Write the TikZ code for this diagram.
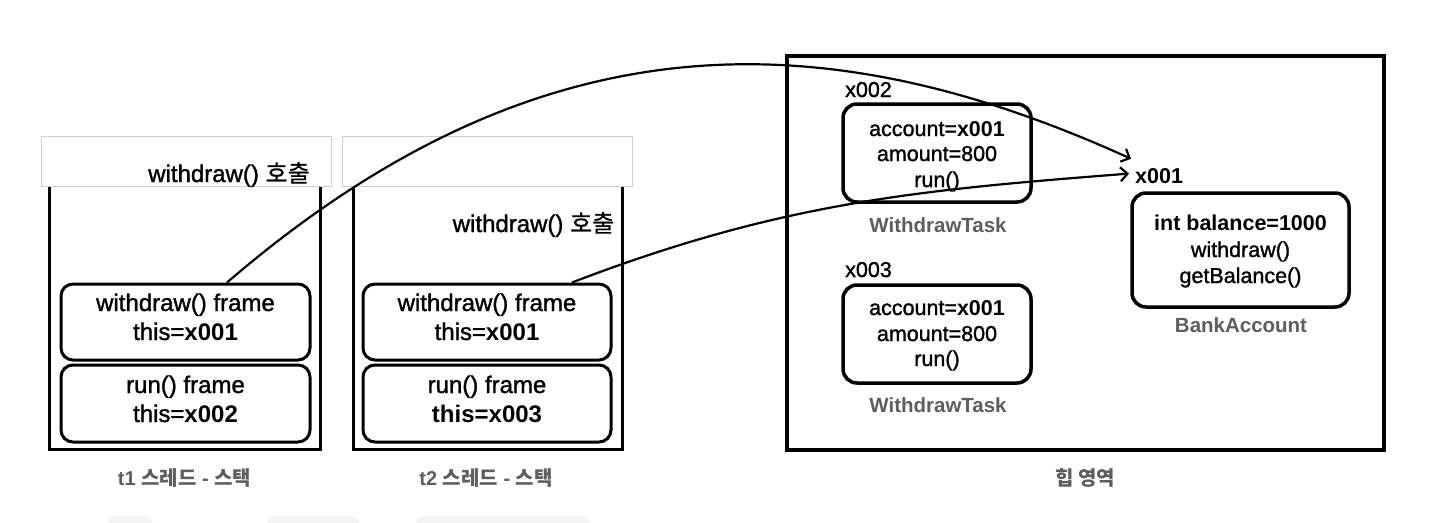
\documentclass[tikz,border=0pt]{standalone}
\usepackage{fontspec}
\setmainfont{Liberation Sans}[UprightFeatures={FakeBold=1.3}]
\newfontfamily\kr{Noto Sans CJK KR}[UprightFeatures={FakeBold=0.8}]
\usetikzlibrary{arrows.meta}
\definecolor{lbl}{HTML}{5E5E5E}
\definecolor{boxedge}{HTML}{CFCFCF}
\definecolor{faint}{HTML}{F3F4F6}
\begin{document}
\begin{tikzpicture}[x=1pt,y=-1pt,
  stackbox/.style={draw, line width=3pt},
  topbox/.style={draw=boxedge, line width=0.9pt, fill=white},
  framebox/.style={draw, line width=3pt, rounded corners=12pt, inner sep=0pt},
  objbox/.style={draw, line width=3.5pt, rounded corners=14pt, inner sep=0pt},
  heapbox/.style={draw, line width=4pt},
  ttxt/.style={anchor=base, inner sep=0pt, font=\fontsize{24}{29}\selectfont},
  htxt/.style={anchor=base, inner sep=0pt, font=\fontsize{21.5}{25}\selectfont},
  addr/.style={anchor=base west, inner sep=0pt, font=\fontsize{21.5}{25}\selectfont},
  classcap/.style={anchor=base, inner sep=0pt, text=lbl, font=\fontsize{20.5}{24}\selectfont\bfseries},
  areacap/.style={inner sep=0pt, text=lbl, font=\fontsize{20}{24}\selectfont\bfseries},
  refarrow/.style={line width=2.2pt, -{Straight Barb[length=7pt,width=14pt,line width=2.2pt]}},
  faintbox/.style={fill=faint, rounded corners=8pt}
]
\useasboundingbox (0,0) rectangle (1440,522);
\fill[white] (0,0) rectangle (1440,522);

% ---------- thread stacks ----------
\draw[stackbox] (49,150) rectangle (320,449);
\draw[stackbox] (353,150) rectangle (622,449);
\node[topbox, minimum width=290pt, minimum height=50pt] (top1) at (186,161) {};
\node[topbox, minimum width=290pt, minimum height=50pt] (top2) at (487,161) {};
\node[ttxt] (call1) at (229,182) {withdraw() {\kr 호출}};
\node[ttxt] (call2) at (533.5,232) {withdraw() {\kr 호출}};

% t1 frames
\node[framebox, minimum width=249pt, minimum height=76pt] (w1) at (185.5,322) {};
\node[ttxt] (w1a) at (185.5,311) {withdraw() frame};
\node[ttxt] (w1b) at (185.5,340) {this=\textbf{x001}};
\node[framebox, minimum width=249pt, minimum height=77pt] (r1) at (185.5,403.5) {};
\node[ttxt] (r1a) at (185.5,393) {run() frame};
\node[ttxt] (r1b) at (185.5,422) {this=\textbf{x002}};

% t2 frames
\node[framebox, minimum width=248pt, minimum height=76pt] (w2) at (487,322) {};
\node[ttxt] (w2a) at (487,311) {withdraw() frame};
\node[ttxt] (w2b) at (487,340) {this=\textbf{x001}};
\node[framebox, minimum width=248pt, minimum height=77pt] (r2) at (487,403.5) {};
\node[ttxt] (r2a) at (487,393) {run() frame};
\node[ttxt] (r2b) at (487,422) {\textbf{this=x003}};

\node[areacap] (cap1) at (184.5,478) {t1 {\kr 스레드} - {\kr 스택}};
\node[areacap] (cap2) at (486,478) {t2 {\kr 스레드} - {\kr 스택}};

% ---------- heap ----------
\draw[heapbox] (787,56) rectangle (1384,450);

\node[addr] (l002) at (845,97) {x002};
\node[objbox, minimum width=188pt, minimum height=98pt] (task2) at (937,153) {};
\node[htxt] (t2a) at (937,136) {account=\textbf{x001}};
\node[htxt] (t2b) at (937,161) {amount=800};
\node[htxt] (t2c) at (937,187) {run()};
\node[classcap] (c2) at (938,232) {WithdrawTask};

\node[addr] (l003) at (845,277) {x003};
\node[objbox, minimum width=188pt, minimum height=98pt] (task3) at (937,334) {};
\node[htxt] (t3a) at (937,315) {account=\textbf{x001}};
\node[htxt] (t3b) at (937,341) {amount=800};
\node[htxt] (t3c) at (937,366) {run()};
\node[classcap] (c3) at (938,412) {WithdrawTask};

\node[addr, font=\fontsize{21.5}{25}\selectfont\bfseries] (l001) at (1135,183) {x001};
\node[objbox, minimum width=217pt, minimum height=114pt] (bank) at (1240.5,250) {};
\node[htxt] (b1) at (1240.5,230) {\textbf{int balance=1000}};
\node[htxt] (b2) at (1240.5,257) {withdraw()};
\node[htxt] (b3) at (1240.5,283) {getBalance()};
\node[classcap] (cb) at (1241,332) {BankAccount};

\node[areacap] (caph) at (1085,478) {\kr 힙 영역};

% ---------- references ----------
\coordinate (tipA) at ([shift={(-4,-9)}]l001.north west);
\coordinate (tipB) at ([shift={(-6,-2)}]l001.west);
\draw[refarrow] ([xshift=41.5pt]w1.north) .. controls (537,16) and (821,18) .. (tipA);
\draw[refarrow] ([xshift=85pt]w2.north) .. controls (782,202) and (919,190) .. (tipB);

% faint shapes at the bottom edge
\fill[faintbox] (108,516) rectangle (153,534);
\fill[faintbox] (267,516) rectangle (359,534);
\fill[faintbox] (416,516) rectangle (590,534);
\end{tikzpicture}
\end{document}
